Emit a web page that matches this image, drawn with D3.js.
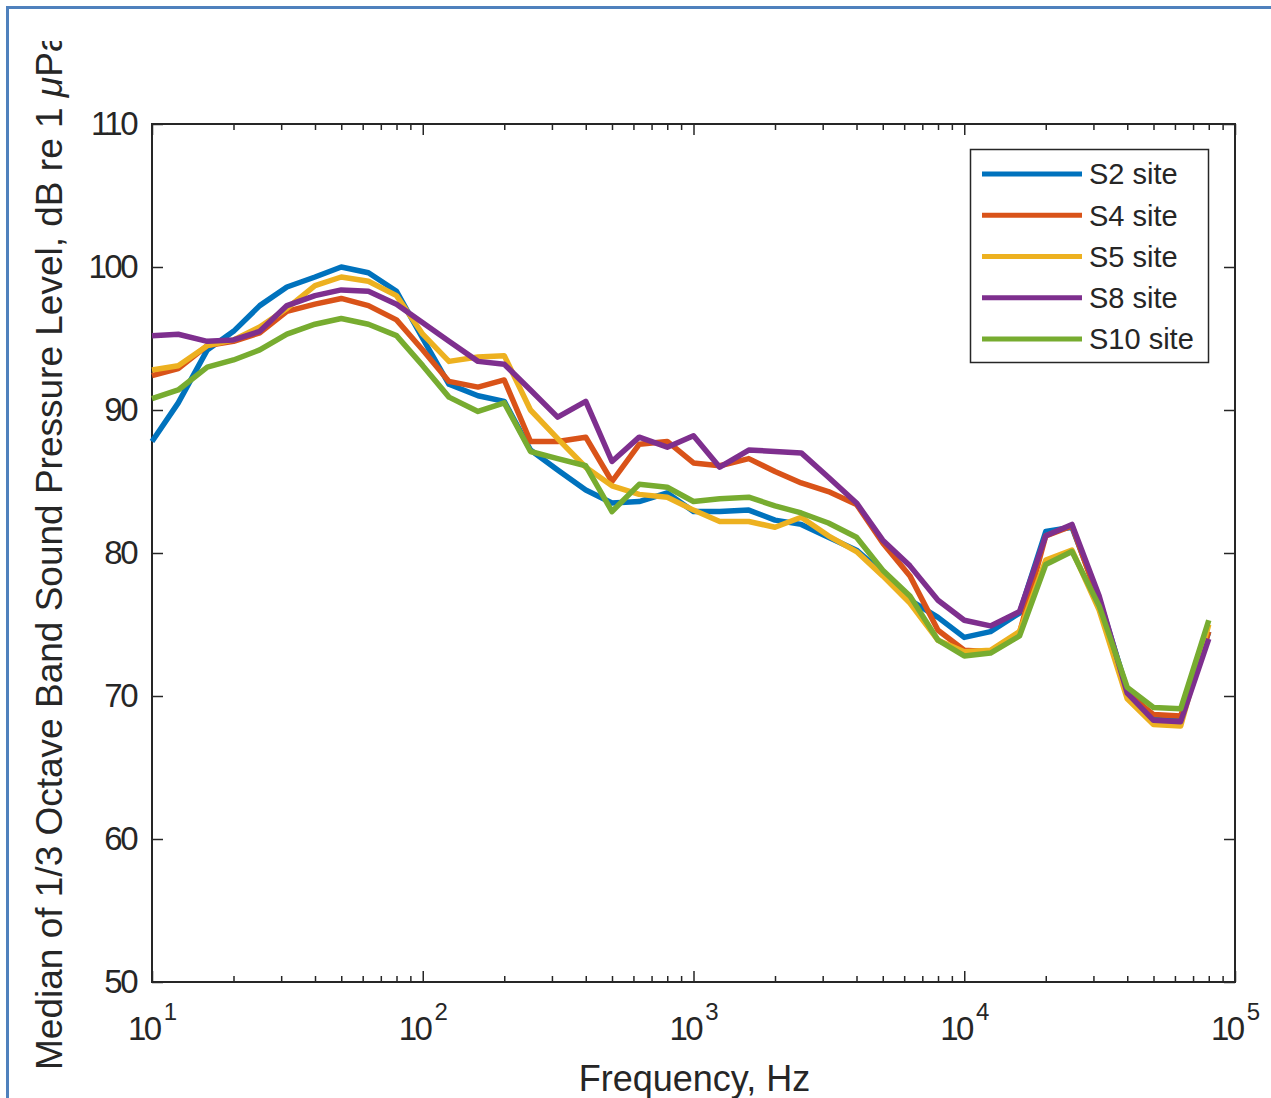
<!DOCTYPE html>
<html>
<head>
<meta charset="utf-8">
<script src="https://cdn.jsdelivr.net/npm/d3@7"></script>
<style>
  html, body { margin: 0; padding: 0; background: #fff; }
  svg { display: block; font-family: "Liberation Sans", Arial, Helvetica, sans-serif; }
</style>
</head>
<body>
<svg id="chart" width="1271" height="1098"></svg>
<script>
// 1/3-octave band centre frequencies (Hz)
const freqs = [10, 12.5, 16, 20, 25, 31.5, 40, 50, 63, 80, 100, 125, 160, 200, 250, 315, 400, 500,
  630, 800, 1000, 1250, 1600, 2000, 2500, 3150, 4000, 5000, 6300, 8000, 10000, 12500, 16000,
  20000, 25000, 31500, 40000, 50000, 63000, 80000];

// Median band levels, dB re 1 uPa
const s2 = [87.8, 90.5, 94.2, 95.5, 97.3, 98.6, 99.3, 100.0, 99.6, 98.3, 95.0, 91.8, 91.0, 90.6, 87.2,
  85.8, 84.4, 83.5, 83.6, 84.2, 82.9, 82.9, 83.0, 82.3, 82.0, 81.1, 80.2, 78.6, 76.7, 75.5, 74.1,
  74.5, 75.8, 81.5, 81.8, 76.8, 70.4, 68.5, 68.4, 74.5];
const s4 = [92.4, 92.9, 94.5, 94.8, 95.4, 96.9, 97.4, 97.8, 97.3, 96.3, 94.2, 92.0, 91.6, 92.1, 87.8,
  87.8, 88.1, 85.0, 87.6, 87.8, 86.3, 86.1, 86.6, 85.7, 84.9, 84.3, 83.4, 80.7, 78.4, 74.6, 73.2,
  73.1, 74.4, 81.2, 81.9, 76.6, 70.2, 68.7, 68.6, 74.5];
const s5 = [92.8, 93.1, 94.5, 94.9, 95.8, 97.1, 98.7, 99.3, 99.0, 98.0, 95.3, 93.4, 93.7, 93.8, 90.0,
  88.0, 86.0, 84.7, 84.1, 83.9, 83.0, 82.2, 82.2, 81.8, 82.5, 81.2, 80.1, 78.4, 76.5, 73.9, 73.1,
  73.2, 74.5, 79.5, 80.2, 76.0, 69.8, 68.0, 67.9, 75.0];
const s8 = [95.2, 95.3, 94.8, 94.9, 95.5, 97.3, 98.0, 98.4, 98.3, 97.4, 96.1, 94.8, 93.4, 93.2, 91.4,
  89.5, 90.6, 86.4, 88.1, 87.4, 88.2, 86.0, 87.2, 87.1, 87.0, 85.3, 83.5, 80.9, 79.1, 76.7, 75.3,
  74.9, 75.9, 81.2, 82.0, 77.0, 70.2, 68.3, 68.2, 74.0];
const s10 = [90.8, 91.4, 93.0, 93.5, 94.2, 95.3, 96.0, 96.4, 96.0, 95.2, 93.1, 90.9, 89.9, 90.5, 87.1,
  86.6, 86.1, 82.9, 84.8, 84.6, 83.6, 83.8, 83.9, 83.3, 82.8, 82.1, 81.1, 78.8, 77.0, 73.9, 72.8,
  73.0, 74.2, 79.2, 80.1, 76.3, 70.6, 69.2, 69.1, 75.3];

const seriesNames = ["S2 site", "S4 site", "S5 site", "S8 site", "S10 site"];
const seriesValues = [s2, s4, s5, s8, s10];
const seriesColors = ["#0072BD", "#D95319", "#EDB120", "#7E2F8E", "#77AC30"];

const yTicks = [50, 60, 70, 80, 90, 100, 110];
const xTickExponents = [1, 2, 3, 4, 5];

const svg = d3.select("#chart");
const W = 1271, H = 1098;
const plotLeft = 152, plotRight = 1235, plotTop = 124, plotBottom = 982;

// figure frame
svg.append("rect").attr("x", 0).attr("y", 0).attr("width", W).attr("height", H).attr("fill", "#fff");
svg.append("rect")
  .attr("x", 7.5).attr("y", 7.5).attr("width", W + 40).attr("height", H + 40)
  .attr("fill", "none").attr("stroke", "#4f81bd").attr("stroke-width", 3);

const x = d3.scaleLog().domain([10, 1e5]).range([plotLeft, plotRight]);
const y = d3.scaleLinear().domain([50, 110]).range([plotBottom, plotTop]);

const axisColor = "#262626";
const majorLen = 11, minorLen = 6;

const minorVals = [];
for (let e = 1; e < 5; e++) for (let m = 2; m <= 9; m++) minorVals.push(m * Math.pow(10, e));
const majorVals = xTickExponents.map(e => Math.pow(10, e));

function styleAxis(g) {
  g.selectAll(".domain").remove();
  g.selectAll(".tick line").attr("stroke", axisColor).attr("stroke-width", 1.5);
}

// bottom axis: major ticks with labels
const gx = svg.append("g").attr("transform", `translate(0,${plotBottom})`)
  .call(d3.axisBottom(x).tickValues(majorVals).tickSize(-majorLen).tickPadding(0).tickFormat(""));
styleAxis(gx);
gx.selectAll(".tick").append("text")
  .attr("fill", axisColor).attr("text-anchor", "middle").attr("y", 58)
  .attr("font-size", 33).attr("letter-spacing", -2.5)
  .each(function (d) {
    const t = d3.select(this);
    t.append("tspan").text("10");
    t.append("tspan").attr("dy", -20).attr("dx", 4).attr("font-size", 24).attr("letter-spacing", 0)
      .text(Math.round(Math.log10(d)));
  });
styleAxis(svg.append("g").attr("transform", `translate(0,${plotBottom})`)
  .call(d3.axisBottom(x).tickValues(minorVals).tickSize(-minorLen).tickFormat("")));

// top axis
styleAxis(svg.append("g").attr("transform", `translate(0,${plotTop})`)
  .call(d3.axisTop(x).tickValues(majorVals).tickSize(-majorLen).tickFormat("")));
styleAxis(svg.append("g").attr("transform", `translate(0,${plotTop})`)
  .call(d3.axisTop(x).tickValues(minorVals).tickSize(-minorLen).tickFormat("")));

// left axis with labels
const gy = svg.append("g").attr("transform", `translate(${plotLeft},0)`)
  .call(d3.axisLeft(y).tickValues(yTicks).tickSize(-majorLen).tickPadding(16).tickFormat(d3.format("d")));
styleAxis(gy);
gy.selectAll(".tick text").attr("fill", axisColor).attr("font-size", 33)
  .attr("letter-spacing", -2.5).attr("font-family", "Liberation Sans, Arial, sans-serif");

// right axis
styleAxis(svg.append("g").attr("transform", `translate(${plotRight},0)`)
  .call(d3.axisRight(y).tickValues(yTicks).tickSize(-majorLen).tickFormat("")));

// axes box
svg.append("rect").attr("x", plotLeft).attr("y", plotTop)
  .attr("width", plotRight - plotLeft).attr("height", plotBottom - plotTop)
  .attr("fill", "none").attr("stroke", axisColor).attr("stroke-width", 2);

// data lines
const line = d3.line().x((d, i) => x(freqs[i])).y(d => y(d));
svg.append("g").selectAll("path").data(seriesValues).join("path")
  .attr("d", line)
  .attr("fill", "none")
  .attr("stroke", (d, i) => seriesColors[i])
  .attr("stroke-width", 5.5)
  .attr("stroke-linejoin", "round");

// legend
const lg = svg.append("g");
lg.append("rect").attr("x", 970.5).attr("y", 149.5).attr("width", 238).attr("height", 213)
  .attr("fill", "#fff").attr("stroke", axisColor).attr("stroke-width", 1.5);
const rowY = d3.scalePoint().domain(seriesNames).range([174, 339]);
const rows = lg.selectAll("g.row").data(seriesNames).join("g").attr("class", "row")
  .attr("transform", d => `translate(0,${rowY(d)})`);
rows.append("line").attr("x1", 982).attr("x2", 1082).attr("y1", 0).attr("y2", 0)
  .attr("stroke", (d, i) => seriesColors[i]).attr("stroke-width", 5);
rows.append("text").attr("x", 1089).attr("dy", "0.36em").attr("font-size", 29)
  .attr("fill", axisColor).text(d => d);

// axis titles
svg.append("text")
  .attr("x", (plotLeft + plotRight) / 2 + 1).attr("y", 1091)
  .attr("text-anchor", "middle").attr("font-size", 36).attr("fill", axisColor)
  .text("Frequency, Hz");

svg.append("clipPath").attr("id", "ylabClip")
  .append("rect").attr("x", 0).attr("y", 41).attr("width", 140).attr("height", H - 41);
const ylab = svg.append("g").attr("clip-path", "url(#ylabClip)")
  .append("text")
  .attr("transform", "translate(62,1070) rotate(-90)")
  .attr("font-size", 37).attr("fill", axisColor);
ylab.append("tspan").text("Median of 1/3 Octave Band Sound Pressure Level, dB re 1 ");
ylab.append("tspan").attr("font-style", "italic").text("\u03bc");
ylab.append("tspan").text("Pa");
</script>
</body>
</html>
